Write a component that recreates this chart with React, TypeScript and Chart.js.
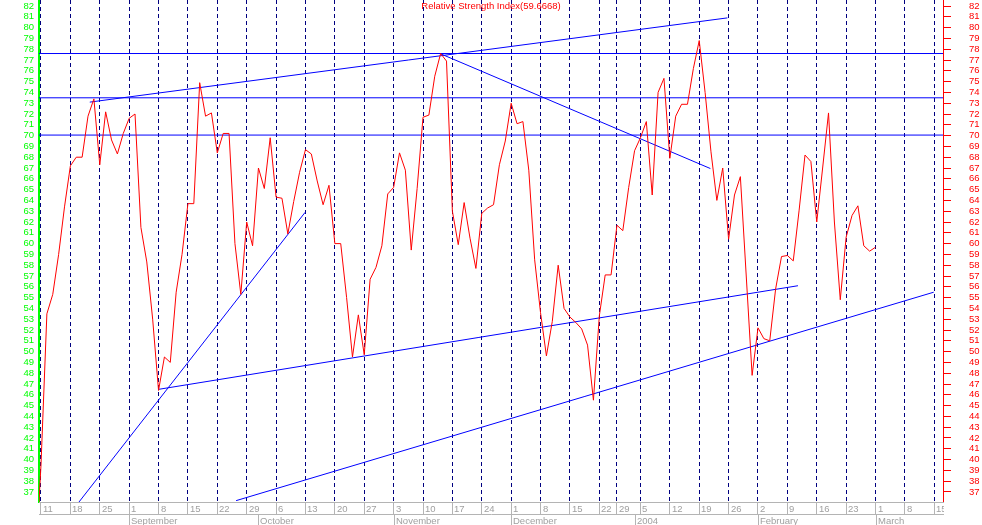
import React, { useEffect, useRef } from 'react';
import { Chart, registerables } from 'chart.js';

Chart.register(...registerables);

// ---------- DATA ----------
// x values are trading-day indexes: 0 = Mon 11 Aug 2003 (holidays 25/26 Dec, 1 Jan skipped)
const RSI_FIRST_INDEX = -1;
const lastRsi = 59.6668;
const rsiValues = [
  29.5, 39.5, 53.5, 55.3, 59.0, 63.4, 67.2, 68.0, 68.0, 71.8, 73.4,
  67.3, 72.2, 69.6, 68.3, 70.2, 71.6, 72.0, 61.5, 58.3, 53.0,
  46.4, 49.5, 49.0, 55.5, 59.0, 63.7, 63.7, 74.9, 71.8, 72.1,
  68.4, 70.2, 70.2, 60.0, 55.3, 62.0, 59.8, 67.0, 65.1, 69.8,
  64.3, 64.2, 60.9, 63.9, 66.6, 68.7, 68.3, 65.8, 63.6, 65.4,
  60.0, 60.0, 55.0, 49.5, 53.4, 49.7, 56.7, 57.8, 59.8, 64.6,
  65.2, 68.4, 66.8, 59.4, 65.1, 71.7, 71.9, 75.5, 77.6, 76.9,
  63.0, 59.9, 63.8, 60.5, 57.7, 62.8, 63.3, 63.6, 67.3, 69.5,
  73.0, 71.1, 71.3, 66.8, 58.5, 53.6, 49.6, 52.8, 58.0, 54.0,
  53.2, 52.7, 52.1, 50.6, 45.5, 53.3, 57.1, 57.1, 61.7, 61.2,
  65.2, 68.6, 69.8, 71.3, 64.5, 74.0, 75.3, 67.9, 71.8, 72.9,
  72.9, 76.2, 78.8, 74.0, 68.5, 64.0, 67.0, 60.4, 64.5, 66.2,
  57.0, 47.8, 52.2, 51.2, 51.0, 55.8, 58.8, 58.9, 58.4, 63.1,
  68.2, 67.6, 62.0, 67.0, 72.1, 62.0, 54.8, 60.6, 62.6, 63.5,
  59.8, 59.3, lastRsi,
];

// weekly (Monday) ticks
const weekTickIndex = [0, 5, 10, 15, 20, 25, 30, 35, 40, 45, 50, 55, 60, 65, 70, 75, 80, 85, 90, 95, 98, 102, 107, 112, 117, 122, 127, 132, 137, 142, 147, 152];
const weekTickLabels = ['11', '18', '25', '1', '8', '15', '22', '29', '6', '13', '20', '27', '3', '10', '17', '24', '1', '8', '15', '22', '29', '5', '12', '19', '26', '2', '9', '16', '23', '1', '8', '15'];
// month starts
const monthTickIndex = [15, 37, 60, 80, 101, 122, 142];
const monthTickLabels = ['September', 'October', 'November', 'December', '2004', 'February', 'March'];

const yTickValues = [37, 38, 39, 40, 41, 42, 43, 44, 45, 46, 47, 48, 49, 50, 51, 52, 53, 54, 55, 56, 57, 58, 59, 60, 61, 62, 63, 64, 65, 66, 67, 68, 69, 70, 71, 72, 73, 74, 75, 76, 77, 78, 79, 80, 81, 82];

// horizontal levels
const horizontalLevels = [77.6, 73.5, 70.05];
// trend lines: [startIndex, startValue, endIndex, endValue]
const trendUpper = [8.3, 73.1, 116.8, 80.9];
const trendDown = [68.1, 77.55, 113.9, 66.95];
const trendSteep = [6.46, 36.07, 44.95, 62.9];
const trendMid = [19.95, 46.5, 128.8, 56.1];
const trendLow = [33.2, 36.2, 151.9, 55.5];

const X_MIN = -0.34;
const X_MAX = 153.48;
const Y_MIN = 36.074;
const Y_MAX = 82.556;

// ---------- STYLE ----------
const FONT = '"Liberation Sans", Arial, sans-serif';
const RED = '#ff0000';
const GREEN = '#00ff00';
const BLUE = '#0000ff';
const NAVY = '#000080';
const GRAY_LINE = '#b4b4b4';
const GRAY_TEXT = '#a0a0a0';

const overlayPlugin = {
  id: 'overlay',
  afterDraw(chart: any) {
    const { ctx, chartArea } = chart;
    const xs = chart.scales.x;
    const H = chart.height;
    ctx.save();
    // title
    ctx.font = `9.5px ${FONT}`;
    ctx.fillStyle = RED;
    ctx.textAlign = 'center';
    ctx.textBaseline = 'top';
    ctx.fillText(`Relative Strength Index(${lastRsi})`, chart.width / 2, 2);

    // x axis rows
    const b = chartArea.bottom;
    ctx.strokeStyle = GRAY_LINE;
    ctx.lineWidth = 1;
    ctx.beginPath();
    ctx.moveTo(chartArea.left, b + 0.5);
    ctx.lineTo(chartArea.right + 1, b + 0.5);
    ctx.moveTo(chartArea.left, b + 12.5);
    ctx.lineTo(chartArea.right + 1, b + 12.5);
    ctx.stroke();

    ctx.beginPath();
    ctx.rect(chartArea.left, b, chartArea.right + 1 - chartArea.left, H - b);
    ctx.clip();
    ctx.font = `9.5px ${FONT}`;
    ctx.fillStyle = GRAY_TEXT;
    ctx.textAlign = 'left';
    ctx.textBaseline = 'alphabetic';
    weekTickIndex.forEach((v, i) => {
      const px = Math.round(xs.getPixelForValue(v));
      ctx.fillText(weekTickLabels[i], px + 2, b + 10);
    });
    monthTickIndex.forEach((v, i) => {
      const px = Math.round(xs.getPixelForValue(v));
      ctx.beginPath();
      ctx.moveTo(px + 0.5, b + 12);
      ctx.lineTo(px + 0.5, H);
      ctx.stroke();
      ctx.fillText(monthTickLabels[i], px + 2, b + 22);
    });
    ctx.restore();
  },
};

function segment(t: number[]) {
  return [
    { x: t[0], y: t[1] },
    { x: t[2], y: t[3] },
  ];
}

export default function App() {
  const canvasRef = useRef<HTMLCanvasElement>(null);

  useEffect(() => {
    const canvas = canvasRef.current;
    if (!canvas) return;
    const rsiData = rsiValues.map((v, i) => ({ x: RSI_FIRST_INDEX + i, y: v }));
    const lineStyle = { borderColor: BLUE, borderWidth: 1, pointRadius: 0, fill: false, tension: 0 };
    const datasets: any[] = [
      { label: 'RSI', data: rsiData, borderColor: RED, borderWidth: 1, pointRadius: 0, fill: false, tension: 0 },
      ...horizontalLevels.map((lv) => ({ ...lineStyle, data: [{ x: X_MIN, y: lv }, { x: X_MAX, y: lv }] })),
      { ...lineStyle, data: segment(trendUpper) },
      { ...lineStyle, data: segment(trendDown) },
      { ...lineStyle, data: segment(trendSteep) },
      { ...lineStyle, data: segment(trendMid) },
      { ...lineStyle, data: segment(trendLow) },
    ];

    const yTicks = (color: string, padding: number) => ({
      color,
      font: { family: FONT, size: 9.5 },
      padding,
      autoSkip: false,
      maxRotation: 0,
      minRotation: 0,
    });

    const chart = new Chart(canvas, {
      type: 'line',
      data: { datasets },
      plugins: [overlayPlugin],
      options: {
        animation: false,
        responsive: false,
        devicePixelRatio: 1,
        layout: { padding: 0 },
        plugins: { legend: { display: false }, tooltip: { enabled: false }, title: { display: false } },
        elements: { line: { borderCapStyle: 'butt' } },
        scales: {
          x: {
            type: 'linear',
            position: 'bottom',
            min: X_MIN,
            max: X_MAX,
            afterBuildTicks: (s: any) => {
              s.ticks = weekTickIndex.map((v) => ({ value: v }));
            },
            afterFit: (s: any) => {
              s.height = 23;
              s.paddingLeft = 0;
              s.paddingRight = 0;
            },
            ticks: { display: false, autoSkip: false },
            grid: {
              display: true,
              drawOnChartArea: true,
              drawTicks: true,
              tickLength: 12,
              color: NAVY,
              lineWidth: 1,
              tickColor: GRAY_LINE,
              tickWidth: 1,
              tickBorderDash: [],
            },
            border: { display: false, dash: [4, 3] },
          },
          y: {
            type: 'linear',
            position: 'left',
            min: Y_MIN,
            max: Y_MAX,
            afterBuildTicks: (s: any) => {
              s.ticks = yTickValues.map((v) => ({ value: v }));
            },
            afterFit: (s: any) => {
              s.width = 39;
              s.paddingTop = 0;
              s.paddingBottom = 0;
            },
            ticks: yTicks(GREEN, 5),
            grid: { display: false, drawTicks: false, drawOnChartArea: false },
            border: { display: true, color: GREEN, width: 2 },
          },
          y2: {
            type: 'linear',
            position: 'right',
            min: Y_MIN,
            max: Y_MAX,
            afterBuildTicks: (s: any) => {
              s.ticks = yTickValues.map((v) => ({ value: v }));
            },
            afterFit: (s: any) => {
              s.width = 39;
              s.paddingTop = 0;
              s.paddingBottom = 0;
            },
            ticks: yTicks(RED, 18),
            grid: {
              display: true,
              drawOnChartArea: false,
              drawTicks: true,
              tickLength: 8,
              color: RED,
              tickColor: RED,
            },
            border: { display: true, color: RED, width: 1 },
          },
        },
      } as any,
    });
    return () => chart.destroy();
  }, []);

  return (
    <div style={{ position: 'fixed', left: 0, top: 0, width: 982, height: 525, background: '#fff' }}>
      <canvas ref={canvasRef} width={982} height={525} style={{ display: 'block' }} />
    </div>
  );
}
